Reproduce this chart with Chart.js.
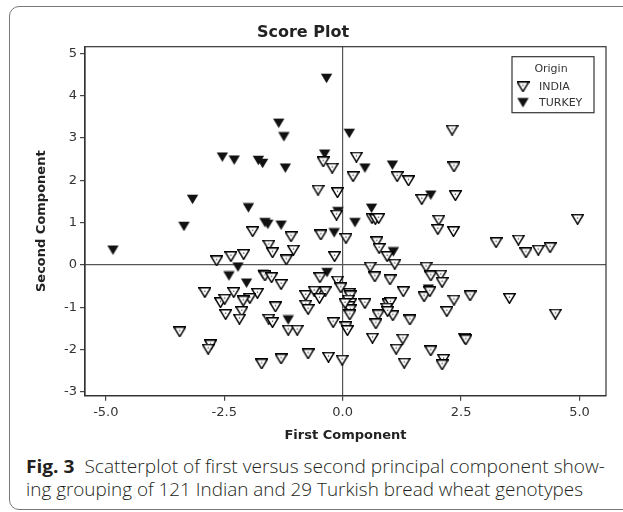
<!DOCTYPE html>
<html>
<head>
<meta charset="utf-8">
<script src="https://cdn.jsdelivr.net/npm/chart.js@4.4.1/dist/chart.umd.min.js"></script>
<style>
  html, body { margin: 0; padding: 0; background: #fff; }
  body { width: 623px; height: 512px; position: relative; overflow: hidden; }
  #frame { position: absolute; left: 9px; top: 6px; width: 640px; height: 504px; border: 1.5px solid #77787b; border-radius: 10px; box-sizing: border-box; }
  #wrap { position: absolute; left: 0; top: 0; width: 623px; height: 450px; }
  .cap { position: absolute; left: 26px; white-space: nowrap; font-family: 'Open Sans', sans-serif; font-weight: 300; font-size: 18px; color: #231f20; line-height: 23px; transform-origin: 0 50%; }
  .cap b { font-weight: 700; }
</style>
</head>
<body>
<div id="frame"></div>
<div id="wrap"><canvas id="chart" width="623" height="450"></canvas></div>
<div class="cap" id="cap1" style="top:455px"><b>Fig. 3</b>&nbsp; Scatterplot of first versus second principal component show-</div>
<div class="cap" id="cap2" style="top:478px">ing grouping of 121 Indian and 29 Turkish bread wheat genotypes</div>
<script>
// scores
const indiaX = [
  -0.41, -0.22, -0.52, -0.11, -0.13, -1.90, -1.09, -0.46, 0.07, -1.56, -1.04, -1.48, -2.09, -2.36, -2.66, -1.19, -0.17,
  2.31, 0.29, 0.22, 1.15, 1.39, 2.35, 1.67, 2.38, 0.62, 0.69, 0.76, 2.03, 2.01, 2.34, 4.96, 0.72, 0.77, 0.94, 1.10, 0.58, 1.76, 3.24, 3.71, 3.87, 4.13, 4.38,
  -1.64, -1.50, -1.30, -0.48, -0.11, -0.04, -2.91, -2.30, -1.80, -1.96, -2.10, -2.58, -2.49, -0.78, -0.53, -0.37, -0.60, -0.49, -0.78, -0.73, -1.42, -2.13, -2.47, -2.18, -1.56, -1.48, -1.15, -0.96, -0.20, -3.44, -2.79, -2.84, -1.71, -1.30, -0.73, -0.30, -0.01,
  0.14, 0.16, 0.12, 0.17, 0.13, 0.16, 0.15, 0.05, 0.07, 0.10,
  0.68, 1.00, 0.47, 1.28, 1.72, 0.96, 1.01, 0.93, 0.75, 1.06, 0.95, 0.70, 1.42, 0.63, 1.27, 1.13, 1.30,
  1.86, 2.07, 2.10, 1.84, 2.35, 2.69, 3.52, 4.49, 2.20, 2.58, 2.60, 1.86, 2.13, 2.10
];
const indiaY = [
  2.44, 2.29, 1.77, 1.71, 1.18, 0.79, 0.67, 0.71, 0.63, 0.47, 0.35, 0.29, 0.25, 0.20, 0.10, 0.12, 0.20,
  3.19, 2.55, 2.09, 2.09, 1.99, 2.32, 1.55, 1.64, 1.10, 1.08, 1.10, 1.06, 0.84, 0.79, 1.08, 0.55, 0.39, 0.20, 0.02, -0.05, -0.05, 0.53, 0.59, 0.29, 0.35, 0.41,
  -0.26, -0.30, -0.46, -0.30, -0.38, -0.54, -0.65, -0.65, -0.67, -0.79, -0.85, -0.89, -0.81, -0.72, -0.63, -0.63, -0.62, -0.79, -0.95, -1.05, -0.99, -1.10, -1.17, -1.28, -1.28, -1.36, -1.54, -1.54, -1.36, -1.58, -1.89, -1.99, -2.34, -2.22, -2.10, -2.18, -2.25,
  -0.67, -0.73, -0.83, -0.91, -0.98, -1.06, -1.18, -0.91, -1.46, -1.55,
  -0.28, -0.35, -0.91, -0.63, -0.75, -0.92, -0.89, -1.02, -1.18, -1.20, -1.10, -1.39, -1.30, -1.73, -1.75, -1.99, -2.32,
  -0.26, -0.24, -0.41, -0.63, -0.83, -0.73, -0.79, -1.16, -1.10, -1.73, -1.77, -2.03, -2.23, -2.36
];
const turkeyX = [
  -0.34, -1.35, -1.24, -2.54, -2.29, -1.78, -1.69, -1.21, -0.38, -3.17, -1.99, -3.35, -1.64, -1.58, -1.30, -0.10,
  -0.18, -4.85, 0.14, 0.47, 1.05, 1.86, 0.61, 0.26, 1.07, -2.21, -2.40, -2.03, -0.33, -1.68, -1.15, 1.81
];
const turkeyY = [
  4.41, 3.35, 3.03, 2.55, 2.48, 2.47, 2.40, 2.29, 2.62, 1.55, 1.35, 0.91, 1.00, 0.96, 0.94, 1.26,
  0.76, 0.35, 3.11, 2.29, 2.36, 1.65, 1.34, 1.00, 0.31, -0.05, -0.26, -0.43, -0.18, -0.22, -1.30, -0.57
];
const seriesNames = ['INDIA', 'TURKEY'];
const xTicks = [-5, -2.5, 0, 2.5, 5];
const yTicks = [-3, -2, -1, 0, 1, 2, 3, 4, 5];

function makeMarker(filled) {
  const c = document.createElement('canvas');
  c.width = 13;
  c.height = 11;
  const g = c.getContext('2d');
  g.beginPath();
  g.moveTo(0.8, 0.8);
  g.lineTo(12.2, 0.8);
  g.lineTo(6.5, 10.3);
  g.closePath();
  if (filled) {
    g.fillStyle = '#111';
    g.fill();
  } else {
    g.fillStyle = '#fff';
    g.fill();
    g.lineWidth = 1.5;
    g.strokeStyle = '#000';
    g.stroke();
    g.fillStyle = '#333';
    g.fillRect(5.9, 3.6, 1.2, 1.2);
  }
  return c;
}
const markers = [makeMarker(false), makeMarker(true)];

const toPoints = (xs, ys) => xs.map((x, i) => ({ x: x, y: ys[i] }));

// plot frame plus the boxed "Origin" legend in the top right corner
const framePlugin = {
  id: 'frameLegend',
  afterDraw(chart) {
    const { ctx, chartArea: a } = chart;
    ctx.save();
    ctx.strokeStyle = '#333';
    ctx.lineWidth = 1.2;
    ctx.strokeRect(a.left, a.top, a.right - a.left, a.bottom - a.top);

    const bx = a.right - 94, by = a.top + 10, bw = 82, bh = 56;
    ctx.fillStyle = '#fff';
    ctx.fillRect(bx, by, bw, bh);
    ctx.strokeRect(bx, by, bw, bh);
    ctx.font = '11px "DejaVu Sans"';
    ctx.fillStyle = '#333';
    ctx.textBaseline = 'middle';
    ctx.textAlign = 'center';
    ctx.fillText('Origin', bx + 39, by + 12);
    ctx.textAlign = 'left';
    seriesNames.forEach((name, i) => {
      const y = by + 30 + i * 16;
      ctx.drawImage(markers[i], bx + 11 - 6.5, y - 5.5);
      ctx.fillText(name, bx + 27, y);
    });
    ctx.restore();
  }
};

Chart.defaults.font.family = '"DejaVu Sans", sans-serif';
Chart.defaults.color = '#333';

new Chart(document.getElementById('chart'), {
  type: 'scatter',
  data: {
    datasets: [
      { label: seriesNames[0], data: toPoints(indiaX, indiaY), pointStyle: markers[0], pointRadius: 6 },
      { label: seriesNames[1], data: toPoints(turkeyX, turkeyY), pointStyle: markers[1], pointRadius: 6 }
    ]
  },
  options: {
    responsive: false,
    animation: false,
    devicePixelRatio: 1,
    layout: { padding: { left: 0, right: 17, top: 0, bottom: 0 } },
    plugins: {
      legend: { display: false },
      tooltip: { enabled: false },
      title: {
        display: true,
        text: 'Score Plot',
        color: '#222',
        font: { size: 16, weight: 'bold' },
        padding: { top: 23.4, bottom: 4.1 }
      }
    },
    scales: {
      x: {
        type: 'linear',
        min: -5.44,
        max: 5.56,
        afterBuildTicks: s => { s.ticks = xTicks.map(v => ({ value: v })); },
        afterFit: s => { s.height = 54.3; },
        ticks: { font: { size: 13 }, padding: 4, callback: v => v.toFixed(1) },
        grid: {
          color: c => (c.tick && c.tick.value === 0 ? '#555' : 'rgba(0,0,0,0)'),
          tickColor: '#444',
          tickLength: 5,
          lineWidth: 1.2
        },
        border: { display: true, color: '#333', width: 1.2 },
        title: {
          display: true,
          text: 'First Component',
          color: '#222',
          font: { size: 13, weight: 'bold' },
          padding: { top: 0, bottom: 6.2 }
        }
      },
      y: {
        type: 'linear',
        min: -3.09,
        max: 5.16,
        afterBuildTicks: s => { s.ticks = yTicks.map(v => ({ value: v })); },
        afterFit: s => { s.width = 85; },
        ticks: { font: { size: 13 }, padding: 3, callback: v => String(v) },
        grid: {
          color: c => (c.tick && c.tick.value === 0 ? '#555' : 'rgba(0,0,0,0)'),
          tickColor: '#444',
          tickLength: 5,
          lineWidth: 1.2
        },
        border: { display: true, color: '#333', width: 1.2 },
        title: {
          display: true,
          text: 'Second Component',
          color: '#222',
          font: { size: 13, weight: 'bold' },
          padding: { top: 33.9, bottom: 0 }
        }
      }
    }
  },
  plugins: [framePlugin]
});

// squeeze the caption lines to the widths they have in the figure
function fitCaption() {
  [['cap1', 579], ['cap2', 557]].forEach(([id, target]) => {
    const el = document.getElementById(id);
    el.style.transform = 'none';
    const w = el.getBoundingClientRect().width;
    el.style.transform = 'scaleX(' + (target / w) + ')';
  });
}
fitCaption();
if (document.fonts && document.fonts.ready) document.fonts.ready.then(fitCaption);
</script>
</body>
</html>
